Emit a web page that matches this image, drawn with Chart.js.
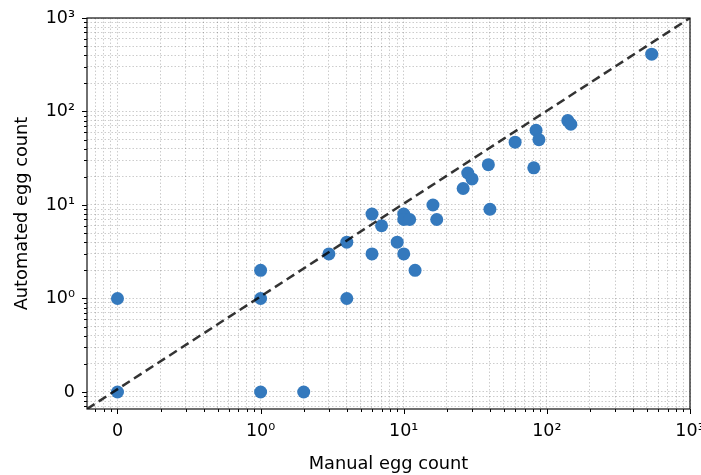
<!DOCTYPE html>
<html>
<head>
<meta charset="utf-8">
<script src="https://cdn.jsdelivr.net/npm/chart.js@4"></script>
<style>
  body { margin: 0; background: #fff; }
  #chart { display: block; }
</style>
</head>
<body>
<canvas id="chart" width="701" height="475"></canvas>
<script>
// egg counts
var manualCounts    = [0, 0, 1, 2, 1, 1, 3, 4, 4, 6, 6, 7, 9, 10, 10, 10, 11, 12, 16, 17, 26, 28, 30, 39, 40, 60, 81, 84, 88, 140, 147, 540];
var automatedCounts = [0, 1, 0, 0, 1, 2, 3, 4, 1, 3, 8, 6, 4, 3, 8, 7, 7, 2, 10, 7, 15, 22, 19, 27, 9, 47, 25, 63, 50, 80, 73, 410];

// dashed reference line, corner to corner of the axes
var refLineX = [-0.213, 1000];
var refLineY = [-0.182, 1000];

// major ticks
var majorTickValues = [0, 1, 10, 100, 1000];
var majorTickLabels = ['0', '10⁰', '10¹', '10²', '10³'];

// symlog with linthresh 1: linear inside [-1, 1], log10 outside
function symlog(v) {
    return Math.abs(v) <= 1 ? v : Math.sign(v) * (1 + Math.log10(Math.abs(v)));
}
function symexp(t) {
    return Math.abs(t) <= 1 ? t : Math.sign(t) * Math.pow(10, Math.abs(t) - 1);
}

class SymlogScale extends Chart.Scale {
    parse(raw) {
        return +raw;
    }
    determineDataLimits() {
        this.min = this.options.min;
        this.max = this.options.max;
    }
    buildTicks() {
        var min = this.min, max = this.max;
        var ticks = [];
        majorTickValues.forEach(function (v) {
            if (v >= min && v <= max) ticks.push({ value: v, major: true });
        });
        for (var k = 2; k <= 9; k++) {
            // minor ticks inside the linear band sit like a log decade (matplotlib quirk)
            [Math.log10(k), -1 + Math.log10(k), k, k * 10, k * 100].forEach(function (v) {
                if (v >= min && v <= max) ticks.push({ value: v, major: false });
            });
        }
        ticks.sort(function (a, b) { return a.value - b.value; });
        return ticks;
    }
    configure() {
        super.configure();
        this._startT = symlog(this.min);
        this._rangeT = symlog(this.max) - this._startT;
    }
    getLabelForValue(v) {
        return String(v);
    }
    getPixelForValue(v) {
        return this.getPixelForDecimal((symlog(v) - this._startT) / this._rangeT);
    }
    getValueForPixel(p) {
        return symexp(this._startT + this.getDecimalForPixel(p) * this._rangeT);
    }
}
SymlogScale.id = 'symlog';
SymlogScale.defaults = {};
Chart.register(SymlogScale);

function tickLabel(value) {
    var i = majorTickValues.indexOf(value);
    return i >= 0 ? majorTickLabels[i] : '';
}

// axes frame and tick marks, matplotlib style
var frameAndTicks = {
    id: 'frameAndTicks',
    afterDraw: function (chart) {
        var ctx = chart.ctx;
        var a = chart.chartArea;
        var xs = chart.scales.x, ys = chart.scales.y;
        ctx.save();
        ctx.strokeStyle = '#000';
        ctx.lineWidth = 1;
        ctx.beginPath();
        xs.ticks.forEach(function (t) {
            var p = Math.round(xs.getPixelForValue(t.value)) + 0.5;
            ctx.moveTo(p, a.bottom);
            ctx.lineTo(p, a.bottom + (t.major ? 5 : 3));
        });
        ys.ticks.forEach(function (t) {
            var p = Math.round(ys.getPixelForValue(t.value)) + 0.5;
            ctx.moveTo(a.left, p);
            ctx.lineTo(a.left - (t.major ? 5 : 3), p);
        });
        ctx.stroke();
        ctx.lineWidth = 1.2;
        ctx.strokeStyle = '#111';
        ctx.strokeRect(a.left, a.top, a.right - a.left, a.bottom - a.top);
        ctx.restore();
    }
};

var tickFont = { family: 'DejaVu Sans', size: 17.5 };
var titleFont = { family: 'DejaVu Sans', size: 17.8 };

var axisCommon = {
    type: 'symlog',
    grid: { color: 'rgba(0,0,0,0.2)', lineWidth: 1, drawTicks: false },
    border: { display: false, dash: [1.5, 2] },
    ticks: {
        autoSkip: false,
        maxRotation: 0,
        minRotation: 0,
        color: '#000',
        font: tickFont,
        callback: tickLabel
    }
};

var scatterPoints = manualCounts.map(function (m, i) {
    return { x: m, y: automatedCounts[i] };
});

new Chart(document.getElementById('chart'), {
    type: 'scatter',
    data: {
        datasets: [{
            type: 'line',
            data: refLineX.map(function (v, i) { return { x: v, y: refLineY[i] }; }),
            borderColor: 'rgba(0,0,0,0.8)',
            borderWidth: 2.5,
            borderDash: [9, 5],
            pointRadius: 0,
            fill: false,
            order: 0
        }, {
            data: scatterPoints,
            backgroundColor: '#3479bd',
            borderWidth: 0,
            pointRadius: 6.5,
            order: 1
        }]
    },
    options: {
        responsive: false,
        animation: false,
        devicePixelRatio: 1,
        layout: { padding: { left: 0, right: 11, top: 18, bottom: 0 } },
        plugins: { legend: { display: false }, tooltip: { enabled: false } },
        scales: {
            x: Object.assign({}, axisCommon, {
                position: 'bottom',
                min: -0.213,
                max: 1000,
                ticks: Object.assign({}, axisCommon.ticks, { padding: 12 }),
                title: { display: true, text: 'Manual egg count', color: '#000', font: titleFont, padding: { top: 2, bottom: 0 } },
                afterFit: function (s) { s.height = 66; s.paddingLeft = 0; s.paddingRight = 0; }
            }),
            y: Object.assign({}, axisCommon, {
                position: 'left',
                min: -0.182,
                max: 1000,
                ticks: Object.assign({}, axisCommon.ticks, { padding: 12 }),
                title: { display: true, text: 'Automated egg count', color: '#000', font: titleFont, padding: { top: 12, bottom: 0 } },
                afterFit: function (s) { s.width = 87; s.paddingTop = 0; s.paddingBottom = 0; }
            })
        }
    },
    plugins: [frameAndTicks]
});
</script>
</body>
</html>
